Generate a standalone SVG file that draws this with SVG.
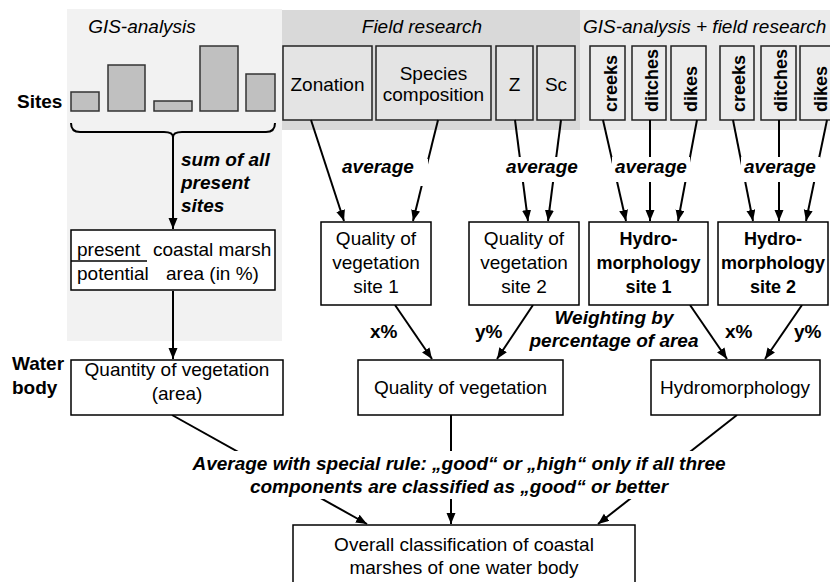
<svg xmlns="http://www.w3.org/2000/svg" width="830" height="582" viewBox="0 0 830 582">
<defs>
<marker id="ah" markerUnits="userSpaceOnUse" markerWidth="12" markerHeight="10" refX="11" refY="4.5" orient="auto">
<path d="M0,0 L11,4.5 L0,9 z" fill="#000"/>
</marker>
<style>
text{font-family:"Liberation Sans",Arial,sans-serif;fill:#000}
.t19{font-size:19px}
.mid{text-anchor:middle}
.it{font-style:italic}
.bi{font-weight:bold;font-style:italic;font-size:19px}
.b{font-weight:bold}
.box{fill:#fff;stroke:#000;stroke-width:1.5}
.fbox{fill:#e4e4e4;stroke:#222;stroke-width:1.5}
.hbox{fill:#ececec;stroke:#222;stroke-width:1.5}
.bar{fill:#c0c0c0;stroke:#333;stroke-width:1.5}
.ln{stroke:#000;stroke-width:2;fill:none}
.arr{stroke:#000;stroke-width:2;fill:none;marker-end:url(#ah)}
.vt{font-weight:bold;font-size:18px}
</style>
</defs>
<rect width="830" height="582" fill="#fff"/>

<g id="panels">
<rect x="67" y="9" width="215" height="332" fill="#f2f2f2"/>
<rect x="282" y="10" width="298" height="120" fill="#d9d9d9"/>
<rect x="580" y="10" width="250" height="120" fill="#ebebeb"/>
<text class="t19 it mid" x="142" y="33">GIS-analysis</text>
<text class="t19 it mid" x="422" y="33">Field research</text>
<text class="t19 it" x="583" y="33">GIS-analysis + field research</text>
</g>

<g id="labels">
<text class="t19 b" x="17" y="108">Sites</text>
<text class="t19 b" x="12" y="370">Water</text>
<text class="t19 b" x="12" y="394">body</text>
</g>

<g id="sites-bars">
<rect class="bar" x="71" y="92" width="28" height="19"/>
<rect class="bar" x="108" y="65" width="37" height="46"/>
<rect class="bar" x="154" y="101" width="38" height="10"/>
<rect class="bar" x="200" y="46" width="38" height="65"/>
<rect class="bar" x="246" y="74" width="29" height="37"/>
</g>

<g id="field-boxes">
<g id="zonation"><rect class="fbox" x="283" y="46" width="89" height="74"/><text class="t19 mid" x="327.5" y="91">Zonation</text></g>
<g id="species"><rect class="fbox" x="376" y="46" width="115" height="74"/><text class="t19 mid" x="433.5" y="80">Species</text><text class="t19 mid" x="433.5" y="101">composition</text></g>
<g id="z"><rect class="fbox" x="496" y="46" width="37" height="74"/><text class="t19 mid" x="514.5" y="91">Z</text></g>
<g id="sc"><rect class="fbox" x="537" y="46" width="38" height="74"/><text class="t19 mid" x="556" y="91">Sc</text></g>
</g>

<g id="hydro-boxes">
<g id="creeks1"><rect class="hbox" x="590" y="46" width="35" height="74"/><text class="vt" transform="translate(617,112) rotate(-90)">creeks</text></g>
<g id="ditches1"><rect class="hbox" x="632" y="46" width="34" height="74"/><text class="vt" transform="translate(658,112) rotate(-90)">ditches</text></g>
<g id="dikes1"><rect class="hbox" x="671" y="46" width="35" height="74"/><text class="vt" transform="translate(697,112) rotate(-90)">dikes</text></g>
<g id="creeks2"><rect class="hbox" x="720" y="46" width="34" height="74"/><text class="vt" transform="translate(745,112) rotate(-90)">creeks</text></g>
<g id="ditches2"><rect class="hbox" x="761" y="46" width="35" height="74"/><text class="vt" transform="translate(787,112) rotate(-90)">ditches</text></g>
<g id="dikes2"><rect class="hbox" x="800" y="46" width="36" height="74"/><text class="vt" transform="translate(827,112) rotate(-90)">dikes</text></g>
</g>

<g id="connectors">
<path class="ln" d="M71,123 Q71,132 80,132 L164,132 Q173,132 173,137 Q173,132 182,132 L266,132 Q275,132 275,123"/>
<line class="arr" x1="173" y1="137" x2="173" y2="229"/>
<line class="arr" x1="173" y1="291" x2="173" y2="359"/>
<line class="arr" x1="311" y1="120" x2="344" y2="221"/>
<line class="arr" x1="438" y1="120" x2="413" y2="221"/>
<line class="arr" x1="515" y1="120" x2="528" y2="221"/>
<line class="arr" x1="561" y1="120" x2="548" y2="221"/>
<line class="arr" x1="603" y1="120" x2="626" y2="221"/>
<line class="arr" x1="650" y1="120" x2="650" y2="221"/>
<line class="arr" x1="697" y1="120" x2="678" y2="221"/>
<line class="arr" x1="733" y1="120" x2="753" y2="221"/>
<line class="arr" x1="779" y1="120" x2="779" y2="221"/>
<line class="arr" x1="827" y1="120" x2="806" y2="221"/>
<line class="arr" x1="395" y1="305" x2="432" y2="359"/>
<line class="arr" x1="533" y1="305" x2="497" y2="359"/>
<line class="arr" x1="690" y1="305" x2="727" y2="359"/>
<line class="arr" x1="802" y1="305" x2="765" y2="359"/>
<line class="arr" x1="172" y1="415" x2="367" y2="524"/>
<line class="arr" x1="451" y1="415" x2="451" y2="524"/>
<line class="arr" x1="737" y1="415" x2="598" y2="524"/>
</g>

<g id="connector-labels">
<text class="bi" x="181" y="166">sum of all</text>
<text class="bi" x="181" y="189">present</text>
<text class="bi" x="181" y="212">sites</text>
<rect x="338" y="159" width="90" height="27" fill="#fff"/>
<text class="bi" x="342" y="173">average</text>
<rect x="503" y="157" width="78" height="25" fill="#fff"/>
<text class="bi" x="506" y="173">average</text>
<rect x="612" y="157" width="78" height="25" fill="#fff"/>
<text class="bi" x="615" y="173">average</text>
<rect x="741" y="157" width="79" height="25" fill="#fff"/>
<text class="bi" x="744" y="173">average</text>
<text class="t19 b" x="370" y="338">x%</text>
<text class="t19 b" x="475" y="338">y%</text>
<text class="t19 b" x="725" y="338">x%</text>
<text class="t19 b" x="794" y="338">y%</text>
<text class="bi mid" x="614" y="324">Weighting by</text>
<text class="bi mid" x="614" y="347">percentage of area</text>
<rect x="180" y="451" width="560" height="48" fill="#fff"/>
<text class="bi mid" x="459" y="470">Average with special rule: „good“ or „high“ only if all three</text>
<text class="bi mid" x="459" y="493">components are classified as „good“ or better</text>
</g>

<g id="fraction-box">
<rect class="box" x="71" y="230" width="204" height="60"/>
<text class="t19" x="77" y="256">present</text>
<line x1="71" y1="261" x2="147" y2="261" stroke="#000" stroke-width="1.5"/>
<text class="t19" x="77" y="280">potential</text>
<text class="t19" x="153" y="256">coastal marsh</text>
<text class="t19" x="166" y="280">area (in %)</text>
</g>

<g id="quality-site1"><rect class="box" x="321" y="222" width="110" height="83"/>
<text class="t19 mid" x="376" y="245">Quality of</text><text class="t19 mid" x="376" y="269">vegetation</text><text class="t19 mid" x="376" y="293">site 1</text></g>
<g id="quality-site2"><rect class="box" x="469" y="222" width="110" height="83"/>
<text class="t19 mid" x="524" y="245">Quality of</text><text class="t19 mid" x="524" y="269">vegetation</text><text class="t19 mid" x="524" y="293">site 2</text></g>
<g id="hydro-site1"><rect class="box" x="589" y="222" width="119" height="83"/>
<text class="t19 b mid" x="648.5" y="245" style="font-size:18px">Hydro-</text><text class="t19 b mid" x="648.5" y="269" style="font-size:18px">morphology</text><text class="t19 b mid" x="648.5" y="293" style="font-size:18px">site 1</text></g>
<g id="hydro-site2"><rect class="box" x="718" y="222" width="110" height="83"/>
<text class="t19 b mid" x="773" y="245" style="font-size:18px">Hydro-</text><text class="t19 b mid" x="773" y="269" style="font-size:18px">morphology</text><text class="t19 b mid" x="773" y="293" style="font-size:18px">site 2</text></g>

<g id="quantity"><rect class="box" x="71" y="360" width="212" height="55"/>
<text class="t19 mid" x="177" y="376">Quantity of vegetation</text><text class="t19 mid" x="177" y="400">(area)</text></g>
<g id="quality"><rect class="box" x="358" y="360" width="205" height="55"/>
<text class="t19 mid" x="460.5" y="394">Quality of vegetation</text></g>
<g id="hydromorphology"><rect class="box" x="651" y="360" width="169" height="55"/>
<text class="t19 mid" x="735" y="394">Hydromorphology</text></g>
<g id="overall"><rect class="box" x="293" y="525" width="342" height="70"/>
<text class="t19 mid" x="464" y="551">Overall classification of coastal</text><text class="t19 mid" x="464" y="574">marshes of one water body</text></g>
</svg>
